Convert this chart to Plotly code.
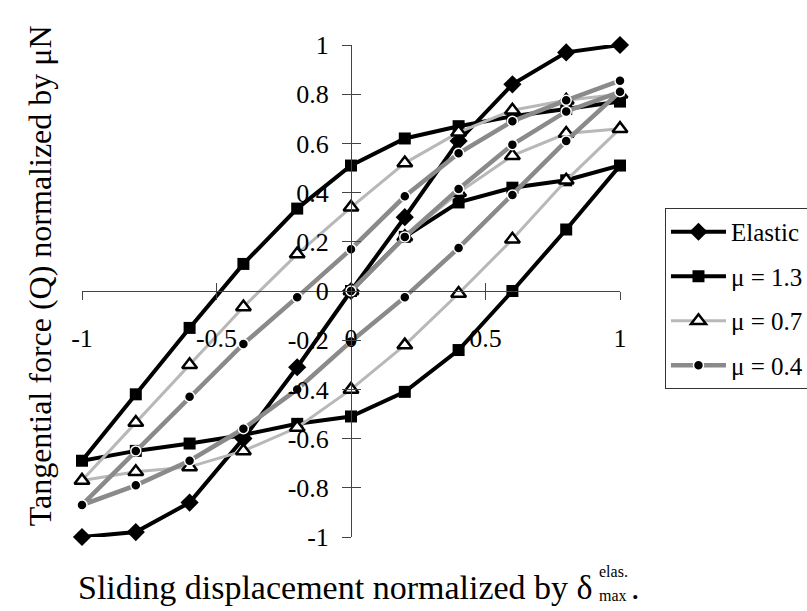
import plotly.graph_objects as go

# Normalized sliding displacement for the elastic reference curve
disp_elastic = [-1.0, -0.8, -0.6, -0.4, -0.2, 0.0, 0.2, 0.4, 0.6, 0.8, 1.0]
q_elastic = [-1.0, -0.98, -0.86, -0.60, -0.31, 0.0, 0.30, 0.61, 0.84, 0.97, 1.0]

# Fretting cycle: initial loading 0 -> 1, unloading 1 -> -1, reloading -1 -> 1
disp_cycle = [0.0, 0.2, 0.4, 0.6, 0.8, 1.0,
              0.8, 0.6, 0.4, 0.2, 0.0, -0.2, -0.4, -0.6, -0.8, -1.0,
              -0.8, -0.6, -0.4, -0.2, 0.0, 0.2, 0.4, 0.6, 0.8, 1.0]

q_mu13 = [0.0, 0.22, 0.36, 0.42, 0.45, 0.51,
          0.25, 0.0, -0.24, -0.41, -0.51, -0.54, -0.585, -0.62, -0.65, -0.69,
          -0.42, -0.15, 0.11, 0.335, 0.51, 0.62, 0.67, 0.71, 0.74, 0.77]

q_mu07 = [0.0, 0.22, 0.40, 0.55, 0.64, 0.66,
          0.45, 0.21, -0.01, -0.22, -0.40, -0.555, -0.65, -0.715, -0.735, -0.77,
          -0.535, -0.30, -0.065, 0.15, 0.34, 0.52, 0.645, 0.735, 0.775, 0.80]

q_mu04 = [0.0, 0.22, 0.415, 0.595, 0.73, 0.81,
          0.61, 0.39, 0.175, -0.025, -0.205, -0.40, -0.56, -0.69, -0.79, -0.87,
          -0.65, -0.43, -0.215, -0.025, 0.17, 0.385, 0.56, 0.69, 0.775, 0.855]

series_names = ["Elastic", "\u03bc = 1.3", "\u03bc = 0.7", "\u03bc = 0.4"]

x_tickvals = [-1, -0.5, 0, 0.5, 1]
x_ticktext = ["-1", "-0.5", "0", "0.5", "1"]
y_tickvals = [-1, -0.8, -0.6, -0.4, -0.2, 0, 0.2, 0.4, 0.6, 0.8, 1]
y_ticktext = ["-1", "-0.8", "-0.6", "-0.4", "-0.2", "0", "0.2", "0.4", "0.6", "0.8", "1"]

SERIF = "Liberation Serif, Times New Roman, serif"

fig = go.Figure()

fig.add_trace(go.Scatter(
    x=disp_elastic, y=q_elastic, name=series_names[0], mode="lines+markers",
    line=dict(color="black", width=4),
    marker=dict(symbol="diamond", size=14, color="black"),
    cliponaxis=False, legendgroup="a", legendrank=1))

fig.add_trace(go.Scatter(
    x=disp_cycle, y=q_mu13, name=series_names[1], mode="lines+markers",
    line=dict(color="black", width=4),
    marker=dict(symbol="square", size=12, color="black"),
    cliponaxis=False, legendgroup="b", legendrank=2))

fig.add_trace(go.Scatter(
    x=disp_cycle, y=q_mu07, name=series_names[2], mode="lines+markers",
    line=dict(color="#b8b8b8", width=3),
    marker=dict(symbol="triangle-up", size=13, color="white",
                line=dict(color="black", width=2.5)),
    cliponaxis=False, legendgroup="c", legendrank=3))

fig.add_trace(go.Scatter(
    x=disp_cycle, y=q_mu04, name=series_names[3], mode="lines+markers",
    line=dict(color="#8a8a8a", width=4.5),
    marker=dict(symbol="circle", size=10, color="black",
                line=dict(color="white", width=1.5)),
    cliponaxis=False, legendgroup="d", legendrank=4))

# empty trace that carries the overlay axes holding the inner half of each tick
fig.add_trace(go.Scatter(x=[], y=[], xaxis="x2", yaxis="y2",
                         showlegend=False, hoverinfo="skip"))

axis_common = dict(range=[-1, 1], showgrid=False, zeroline=False,
                   anchor="free", position=0.5)

fig.update_layout(
    width=807, height=611,
    margin=dict(l=82, r=187, t=45, b=74, autoexpand=False),
    paper_bgcolor="white", plot_bgcolor="white",
    font=dict(family=SERIF, color="black", size=26),
    xaxis=dict(**axis_common, showline=True, linecolor="#444", linewidth=1,
               ticks="outside", ticklen=8, tickcolor="#444", tickwidth=1,
               tickvals=x_tickvals, ticktext=x_ticktext,
               ticklabelstandoff=16, tickfont=dict(size=26)),
    yaxis=dict(**axis_common, showline=True, linecolor="#444", linewidth=1,
               ticks="outside", ticklen=9, tickcolor="#444", tickwidth=1,
               tickvals=y_tickvals, ticktext=y_ticktext,
               ticklabelstandoff=8, tickfont=dict(size=26)),
    xaxis2=dict(**axis_common, overlaying="x", showline=False,
                ticks="inside", ticklen=8, tickcolor="#444", tickwidth=1,
                tickvals=x_tickvals, showticklabels=False),
    yaxis2=dict(**axis_common, overlaying="y", showline=False,
                ticks="inside", ticklen=9, tickcolor="#444", tickwidth=1,
                tickvals=y_tickvals, showticklabels=False),
    showlegend=True,
    legend=dict(x=1.0836, y=0.6687, xanchor="left", yanchor="top",
                bgcolor="white", bordercolor="#333", borderwidth=1,
                font=dict(family=SERIF, size=25), tracegroupgap=9,
                itemwidth=55, traceorder="grouped"),
)

# axis titles
fig.add_annotation(text="Tangential force (Q) normalized by \u03bcN",
                   xref="paper", yref="paper", x=-0.115, y=0.53,
                   textangle=-90, showarrow=False,
                   font=dict(family=SERIF, size=32))
fig.add_annotation(text="Sliding displacement normalized by \u03b4",
                   xref="paper", yref="paper", x=0.9535, y=-0.102,
                   xanchor="right", yanchor="middle", showarrow=False,
                   font=dict(family=SERIF, size=34))
fig.add_annotation(text="elas.", xref="paper", yref="paper",
                   x=0.958, y=-0.071, xanchor="left", yanchor="middle",
                   showarrow=False, font=dict(family=SERIF, size=16))
fig.add_annotation(text="max", xref="paper", yref="paper",
                   x=0.958, y=-0.118, xanchor="left", yanchor="middle",
                   showarrow=False, font=dict(family=SERIF, size=16))
fig.add_annotation(text=".", xref="paper", yref="paper",
                   x=1.017, y=-0.102, xanchor="left", yanchor="middle",
                   showarrow=False, font=dict(family=SERIF, size=34))

fig.write_html("out.html")
